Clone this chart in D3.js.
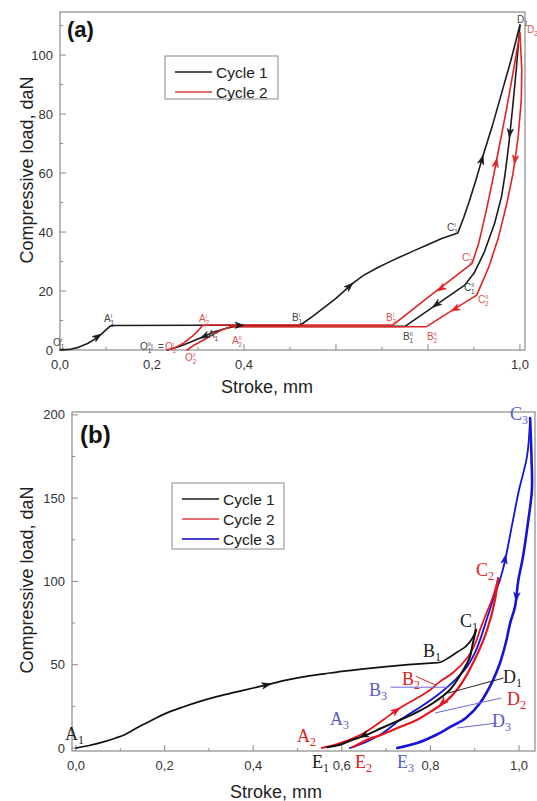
<!DOCTYPE html>
<html><head><meta charset="utf-8">
<script src="https://cdn.jsdelivr.net/npm/d3@7"></script>
<style>body{margin:0;background:#fff}svg{display:block}</style>
</head><body>
<svg id="c" width="537" height="801"></svg>
<script>
// ---------- DATA: panel (a) ----------
const aXTicks = [0, 0.2, 0.4, 0.6, 0.8, 1.0];
const aXTickLabels = ["0,0", "0,2", "0,4", "", "", "1,0"];
const aYTicks = [0, 20, 40, 60, 80, 100];
const aLegend = ["Cycle 1", "Cycle 2"];
const aC1Load = [[0,0],[0.02,0.2],[0.04,0.9],[0.06,2.2],[0.075,3.6],[0.09,5.4],[0.1,6.8],[0.109,8.1],[0.12,8.3],[0.3,8.4],[0.522,8.4],[0.55,11.5],[0.6,17.5],[0.637,22.7],[0.66,25.3],[0.689,27.8],[0.715,29.8],[0.739,31.5],[0.77,33.7],[0.798,35.6],[0.83,37.8],[0.865,39.7],[0.878,45],[0.89,50.5],[0.905,58],[0.92,66],[0.94,76],[0.96,87],[0.98,98],[1.0,110.2]];
const aC1Unload = [[1.0,110.2],[0.992,95],[0.984,82],[0.976,70],[0.968,60],[0.96,52],[0.945,43],[0.922,33],[0.9,26],[0.88,22],[0.75,8.0],[0.38,8.0],[0.36,7.3],[0.333,6],[0.31,4.4],[0.283,2.6],[0.258,1.1],[0.233,0]];
const aC2Load = [[0.233,0],[0.25,0.8],[0.27,2.5],[0.29,5],[0.30,6.5],[0.31,8.3],[0.33,8.5],[0.724,8.5],[0.81,19],[0.896,29.4],[0.91,36],[0.925,46],[0.94,57],[0.955,69],[0.97,81],[0.985,94],[1.0,107.5]];
const aC2Unload = [[1.0,107.5],[1.004,95],[1.003,85],[0.996,72],[0.985,60],[0.972,50],[0.953,38],[0.932,28],[0.906,18.6],[0.85,13.2],[0.797,7.9],[0.37,7.9],[0.35,6.7],[0.33,5],[0.31,3.2],[0.29,1.5],[0.276,0]];
// arrows: [x1,y1,x2,y2] (direction from 1 to 2, head at 2)
const aArrowsBlack = [[0.06,2.2,0.09,5.4],[0.36,8.4,0.40,8.4],[0.60,17.5,0.637,22.7],[0.905,58,0.92,66],[0.984,82,0.977,72],[0.85,19,0.81,14.5],[0.333,6,0.305,4]];
const aArrowsRed = [[0.94,57,0.95,65],[0.996,72,0.988,63],[0.86,24,0.82,20],[0.88,15.6,0.85,13.2]];
const aLabels = [
  ["O","1","I","#444",53,346],["A","1","I","#444",104,322],["O","1","II","#444",140,350],["= ","","","#444",158,350],
  ["O","2","I","#d9534f",165,350],["A","1","II","#444",208,338],["A","2","I","#d9534f",199,322],["A","2","II","#d9534f",232,344],
  ["O","2","II","#d9534f",185,361],["B","1","I","#444",292,321],["B","2","I","#d9534f",386,321],["B","1","II","#444",403,340],
  ["B","2","II","#d9534f",427,340],["C","1","I","#444",447,231],["C","2","I","#d9534f",462,261],["C","1","II","#444",464,291],
  ["C","2","II","#d9534f",478,303],["D","1","","#444",517,23],["D","2","","#d9534f",527,33]
];

// ---------- DATA: panel (b) ----------
const bXTicks = [0, 0.2, 0.4, 0.6, 0.8, 1.0];
const bXTickLabels = ["0,0", "0,2", "0,4", "0,6", "0,8", "1,0"];
const bYTicks = [0, 50, 100, 150, 200];
const bLegend = ["Cycle 1", "Cycle 2", "Cycle 3"];
const bC1Load = [[0,0],[0.03,1.5],[0.06,3.5],[0.09,6],[0.11,8],[0.14,12.5],[0.17,16.5],[0.2,20.5],[0.24,24.5],[0.28,28],[0.32,31],[0.36,33.5],[0.40,36],[0.44,38.5],[0.48,41],[0.52,43],[0.56,44.5],[0.60,46],[0.65,47.5],[0.70,48.8],[0.75,50],[0.80,51],[0.822,51.5],[0.84,54],[0.86,57.5],[0.88,61],[0.895,66],[0.903,71]];
const bC1Unload = [[0.903,71],[0.895,62],[0.889,54.6],[0.87,45],[0.844,35],[0.806,27],[0.77,21.5],[0.731,16.8],[0.69,12],[0.657,8],[0.62,4.5],[0.596,2],[0.567,0.5]];
const bC2Load = [[0.555,0],[0.585,2],[0.618,5],[0.65,9],[0.693,16.8],[0.731,24],[0.77,30],[0.80,35],[0.822,40],[0.85,45],[0.883,54],[0.90,62],[0.912,71],[0.928,82],[0.941,90.6],[0.953,102]];
const bC2Unload = [[0.953,102],[0.945,88],[0.928,71],[0.912,60],[0.896,51],[0.88,43],[0.86,35],[0.835,28],[0.806,22.8],[0.77,17],[0.731,12.6],[0.69,8],[0.657,5],[0.625,0.5]];
const bC3Load = [[0.618,0],[0.65,3],[0.69,8.5],[0.731,16.8],[0.78,25],[0.822,33],[0.86,42],[0.883,49],[0.905,60],[0.928,78],[0.945,92],[0.957,101],[0.968,112],[0.985,135],[1.0,155],[1.018,175],[1.025,198]];
const bC3Unload = [[1.025,198],[1.028,175],[1.029,155],[1.02,135],[1.009,115],[0.998,100],[0.991,85],[0.98,75],[0.97,63],[0.957,51],[0.94,40],[0.912,27],[0.88,18],[0.844,12.5],[0.81,7.5],[0.77,3],[0.725,0]];
const bArrowsBlack = [[0.40,36,0.44,38.5],[0.69,12,0.64,6.5]];
const bArrowsRed = [[0.69,16.5,0.731,24],[0.86,35,0.82,25.5]];
const bArrowsBlue = [[0.962,105,0.97,116],[0.998,100,0.993,88]];
const bLabels = [
  ["A","1","#222",65,740],["B","1","#222",423,657],["C","1","#222",460,627],["B","2","#e02020",402,685],
  ["B","3","#5a5ad0",369,696],["D","1","#222",503,683],["D","2","#e02020",507,705],["D","3","#5a5ad0",492,727],
  ["A","3","#5a5ad0",330,725],["A","2","#e02020",297,742],["E","1","#222",312,768],["E","2","#e02020",355,768],
  ["E","3","#5a5ad0",397,768],["C","2","#e02020",476,576],["C","3","#5a5ad0",510,420]
];
const bLeaders = [
  ["#e02020",0.767,43,0.81,38],["#6a6ad8",0.71,36.5,0.84,36.5],["#222",0.84,33,0.965,42],
  ["#6a6ad8",0.81,21,0.96,30],["#6a6ad8",0.86,12,0.95,15]
];

const svg = d3.select("#c");
const font = "Arial, 'Liberation Sans', sans-serif";
const axisCol = "#8a8a8a";

function frame(x, y, xTicks, xLabels, xMinor, yTicks, yMinor, xLabelY, yLabelX) {
  const x0 = x.range()[0], x1 = x.range()[1], y0 = y.range()[0], y1 = y.range()[1];
  const g = svg.append("g");
  g.append("rect").attr("x", x0).attr("y", y1).attr("width", x1 - x0).attr("height", y0 - y1)
    .attr("fill", "none").attr("stroke", axisCol).attr("stroke-width", 1.2);
  xMinor.forEach(v => g.append("line").attr("x1", x(v)).attr("x2", x(v)).attr("y1", y0).attr("y2", y0 - 3).attr("stroke", axisCol));
  xTicks.forEach((v, i) => {
    g.append("line").attr("x1", x(v)).attr("x2", x(v)).attr("y1", y0).attr("y2", y0 - 6).attr("stroke", axisCol);
    g.append("text").attr("x", x(v)).attr("y", xLabelY).attr("text-anchor", "middle")
      .attr("font-family", font).attr("font-size", 13).attr("fill", "#333").text(xLabels[i]);
  });
  yMinor.forEach(v => g.append("line").attr("x1", x0).attr("x2", x0 + 3).attr("y1", y(v)).attr("y2", y(v)).attr("stroke", axisCol));
  yTicks.forEach(v => {
    g.append("line").attr("x1", x0).attr("x2", x0 + 6).attr("y1", y(v)).attr("y2", y(v)).attr("stroke", axisCol);
    g.append("text").attr("x", yLabelX).attr("y", y(v) + 4.5).attr("text-anchor", "end")
      .attr("font-family", font).attr("font-size", 13).attr("fill", "#333").text(v);
  });
}

function curve(x, y, data, color, w, smooth) {
  const line = d3.line().x(d => x(d[0])).y(d => y(d[1]))
    .curve(smooth ? d3.curveCatmullRom.alpha(0.5) : d3.curveLinear);
  svg.append("path").attr("d", line(data)).attr("fill", "none").attr("stroke", color)
    .attr("stroke-width", w).attr("stroke-linejoin", "round").attr("stroke-linecap", "round");
}

function arrows(x, y, list, color) {
  list.forEach(a => {
    const px1 = x(a[0]), py1 = y(a[1]), px2 = x(a[2]), py2 = y(a[3]);
    const ang = Math.atan2(py2 - py1, px2 - px1) * 180 / Math.PI;
    svg.append("path").attr("d", "M0,0 L-9,-3.2 L-6.5,0 L-9,3.2 Z")
      .attr("transform", `translate(${px2},${py2}) rotate(${ang})`).attr("fill", color).attr("stroke", color).attr("stroke-width", 0.6);
  });
}

function legend(x0, y0, w, h, items, colors) {
  svg.append("rect").attr("x", x0).attr("y", y0).attr("width", w).attr("height", h)
    .attr("fill", "#fff").attr("stroke", "#8a8a8a").attr("stroke-width", 1);
  items.forEach((t, i) => {
    const yy = y0 + 16 + i * 20;
    svg.append("line").attr("x1", x0 + 10).attr("x2", x0 + 47).attr("y1", yy).attr("y2", yy)
      .attr("stroke", colors[i]).attr("stroke-width", 2);
    svg.append("text").attr("x", x0 + 51).attr("y", yy + 5.5).attr("font-family", font)
      .attr("font-size", 15.5).attr("fill", "#222").text(t);
  });
}

// ---------- PANEL (a) ----------
{
  const x = d3.scaleLinear().domain([0, 1.011]).range([60, 525]);
  const y = d3.scaleLinear().domain([0, 114.6]).range([350, 12]);
  frame(x, y, aXTicks, aXTickLabels, d3.range(0.1, 1.0, 0.2), aYTicks, d3.range(10, 111, 20), 369, 53);
  const black = "#1c1c1c", red = "#e02424";
  curve(x, y, aC1Load, black, 1.6, false);
  curve(x, y, aC1Unload, black, 1.6, false);
  curve(x, y, aC2Load, red, 1.6, false);
  curve(x, y, aC2Unload, red, 1.6, false);
  arrows(x, y, aArrowsBlack, black);
  arrows(x, y, aArrowsRed, red);
  aLabels.forEach(l => {
    const t = svg.append("text").attr("x", l[4]).attr("y", l[5]).attr("font-family", font)
      .attr("font-size", 10).attr("fill", l[3]);
    t.append("tspan").text(l[0]);
    if (l[2]) t.append("tspan").attr("font-size", 5.5).attr("dy", -4).text(l[2]);
    if (l[1]) t.append("tspan").attr("font-size", 6.5).attr("dx", l[2] ? -(l[2].length * 1.6) : 0).attr("dy", l[2] ? 7 : 3).text(l[1]);
  });
  svg.append("text").attr("x", 67).attr("y", 37).attr("font-family", font).attr("font-weight", "bold")
    .attr("font-size", 22).attr("fill", "#111").text("(a)");
  legend(165, 56, 113, 43, aLegend, ["#555", "#e07070"]);
  svg.append("text").attr("x", 267).attr("y", 393).attr("text-anchor", "middle").attr("font-family", font)
    .attr("font-size", 18).attr("fill", "#222").text("Stroke, mm");
  svg.append("text").attr("transform", "translate(33,170) rotate(-90)").attr("text-anchor", "middle")
    .attr("font-family", font).attr("font-size", 18).attr("fill", "#222").text("Compressive load, daN");
}

// ---------- PANEL (b) ----------
{
  const x = d3.scaleLinear().domain([-0.009, 1.036]).range([72, 535]);
  const y = d3.scaleLinear().domain([-1.8, 201.7]).range([751, 412]);
  frame(x, y, bXTicks, bXTickLabels, d3.range(0.1, 1.0, 0.2), bYTicks, d3.range(25, 200, 50), 770, 65);
  const black = "#111", red = "#e8141c", blue = "#1414d8";
  curve(x, y, bC1Load, black, 1.7, true);
  curve(x, y, bC3Load, blue, 1.8, true);
  curve(x, y, bC3Unload, blue, 2.6, true);
  curve(x, y, bC2Load, red, 1.8, true);
  curve(x, y, bC2Unload, red, 2.2, true);
  curve(x, y, bC1Unload, black, 2, true);
  arrows(x, y, bArrowsBlack, black);
  arrows(x, y, bArrowsRed, red);
  arrows(x, y, bArrowsBlue, blue);
  bLeaders.forEach(l => svg.append("line").attr("x1", x(l[1])).attr("y1", y(l[2])).attr("x2", x(l[3])).attr("y2", y(l[4]))
    .attr("stroke", l[0]).attr("stroke-width", 1));
  bLabels.forEach(l => {
    const t = svg.append("text").attr("x", l[3]).attr("y", l[4]).attr("font-family", "'Liberation Serif', 'DejaVu Serif', serif")
      .attr("font-size", 18).attr("fill", l[2]);
    t.append("tspan").text(l[0]);
    t.append("tspan").attr("font-size", 12).attr("dy", 4).text(l[1]);
  });
  svg.append("text").attr("x", 80).attr("y", 443).attr("font-family", font).attr("font-weight", "bold")
    .attr("font-size", 24).attr("fill", "#111").text("(b)");
  legend(172, 483, 112, 66, bLegend, ["#555", "#e07070", "#4040c8"]);
  svg.append("text").attr("x", 276).attr("y", 798).attr("text-anchor", "middle").attr("font-family", font)
    .attr("font-size", 18).attr("fill", "#222").text("Stroke, mm");
  svg.append("text").attr("transform", "translate(33,580) rotate(-90)").attr("text-anchor", "middle")
    .attr("font-family", font).attr("font-size", 18).attr("fill", "#222").text("Compressive load, daN");
}
</script>
</body></html>
